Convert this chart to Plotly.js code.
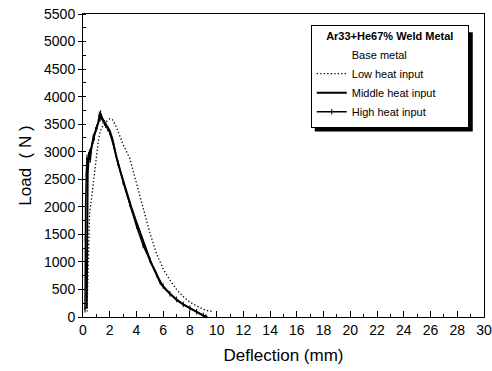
<!DOCTYPE html>
<html>
<head>
<meta charset="utf-8">
<script src="https://cdn.plot.ly/plotly-3.0.1.min.js"></script>
<style>html,body{margin:0;padding:0;background:#fff;}#chart{width:492px;height:371px;}</style>
</head>
<body>
<div id="chart"></div>
<script>
// Low heat input (dotted)
const lowX = [0.3,0.35,0.4,0.5,0.65,0.8,0.9,1.0,1.15,1.3,1.5,1.65,1.8,2.0,2.2,2.5,2.8,3.0,3.5,4.0,4.5,5.0,5.5,6.0,6.5,7.0,7.5,8.0,8.5,9.0,9.5,9.7];
const lowY = [100,700,1300,1900,2180,2500,2720,2900,3200,3380,3480,3510,3560,3600,3580,3450,3260,3130,2880,2430,1950,1530,1150,870,670,500,370,270,200,140,100,110];
// Middle heat input (solid)
const midX = [0.28,0.3,0.32,0.35,0.4,0.5,0.6,0.7,0.8,0.9,1.0,1.1,1.2,1.3,1.4,1.5,1.6,1.8,2.0,2.2,2.5,2.8,3.0,3.3,3.6,4.0,4.4,4.8,5.1,5.5,5.8,6.2,6.6,7.0,7.5,8.0,8.5,9.0,9.3];
const midY = [150,1200,2100,2600,2800,2950,3050,3150,3300,3350,3420,3500,3580,3640,3620,3580,3550,3470,3380,3230,2900,2640,2480,2230,2000,1720,1450,1180,980,780,610,500,400,310,230,160,90,25,0];
// High heat input (solid with ticks)
const highX = [0.15,0.17,0.2,0.25,0.3,0.35,0.42,0.5,0.55,0.65,0.75,0.85,0.95,1.05,1.15,1.22,1.28,1.32,1.4,1.5,1.6,1.7,1.85,2.0,2.3,2.6,3.0,3.5,4.0,4.5,5.0,5.5,6.0,6.5,7.0,7.5,8.0,8.5,9.0,9.2];
const highY = [130,1400,2100,2600,2900,2700,2950,3000,2850,3100,3200,3250,3400,3450,3550,3680,3600,3700,3620,3560,3520,3480,3420,3350,3100,2800,2450,2050,1650,1300,1040,770,560,420,320,230,160,95,30,0];

const seriesNames = ["Base metal","Low heat input","Middle heat input","High heat input"];
const legendTitle = "Ar33+He67% Weld Metal";
const xTitle = "Deflection (mm)";
const yTitle = "Load  ( N )";

const FONT = "Liberation Sans, Arial, sans-serif";
const PAD = "\u00A0\u00A0\u00A0\u00A0";

const traces = [
  {x:[null], y:[null], mode:"lines", name:seriesNames[0], line:{color:"rgba(0,0,0,0)", width:0}},
  {x:lowX, y:lowY, mode:"lines", name:seriesNames[1], line:{color:"#000", width:1.3, dash:"1.3px,2.2px"}},
  {x:midX, y:midY, mode:"lines", name:seriesNames[2], line:{color:"#000", width:2}},
  {x:highX, y:highY, mode:"lines+markers", name:seriesNames[3], line:{color:"#000", width:1.5},
   marker:{symbol:"line-ns-open", size:4, color:"#000", line:{width:1, color:"#000"}}}
];

const layout = {
  width:492, height:371,
  margin:{l:83, r:8, t:14, b:54},
  paper_bgcolor:"#fff", plot_bgcolor:"#fff",
  font:{family:FONT, color:"#000", size:14},
  showlegend:true,
  legend:{
    x:0.568, y:0.964, xanchor:"left", yanchor:"top",
    bgcolor:"#fff", bordercolor:"#000", borderwidth:1,
    font:{family:FONT, size:11, color:"#000"},
    title:{text:PAD+"<b>"+legendTitle+"</b>"+PAD, side:"top center", font:{family:FONT, size:11}},
    tracegroupgap:0, itemwidth:30
  },
  shapes:[
    {type:"rect", xref:"paper", yref:"paper", x0:0.578, x1:0.972, y0:0.612, y1:0.940,
     fillcolor:"#000", line:{width:0}, layer:"above"}
  ],
  xaxis:{
    range:[0,30], dtick:2, tick0:0,
    ticks:"inside", ticklen:6, tickwidth:1, tickcolor:"#000",
    minor:{dtick:1, ticks:"inside", ticklen:3, tickcolor:"#000"},
    showline:true, linecolor:"#000", linewidth:1, mirror:true,
    showgrid:false, zeroline:false,
    tickfont:{family:FONT, size:14},
    title:{text:xTitle, font:{family:FONT, size:17}, standoff:12}
  },
  yaxis:{
    range:[0,5500], dtick:500, tick0:0,
    ticks:"outside", ticklen:4, tickwidth:1, tickcolor:"#000",
    minor:{dtick:250, ticks:"inside", ticklen:3, tickcolor:"#000"},
    showline:true, linecolor:"#000", linewidth:1, mirror:true,
    showgrid:false, zeroline:false,
    tickfont:{family:FONT, size:14},
    title:{text:yTitle, font:{family:FONT, size:17}, standoff:8}
  }
};

Plotly.newPlot("chart", traces, layout, {displayModeBar:false, staticPlot:true});
</script>
</body>
</html>
